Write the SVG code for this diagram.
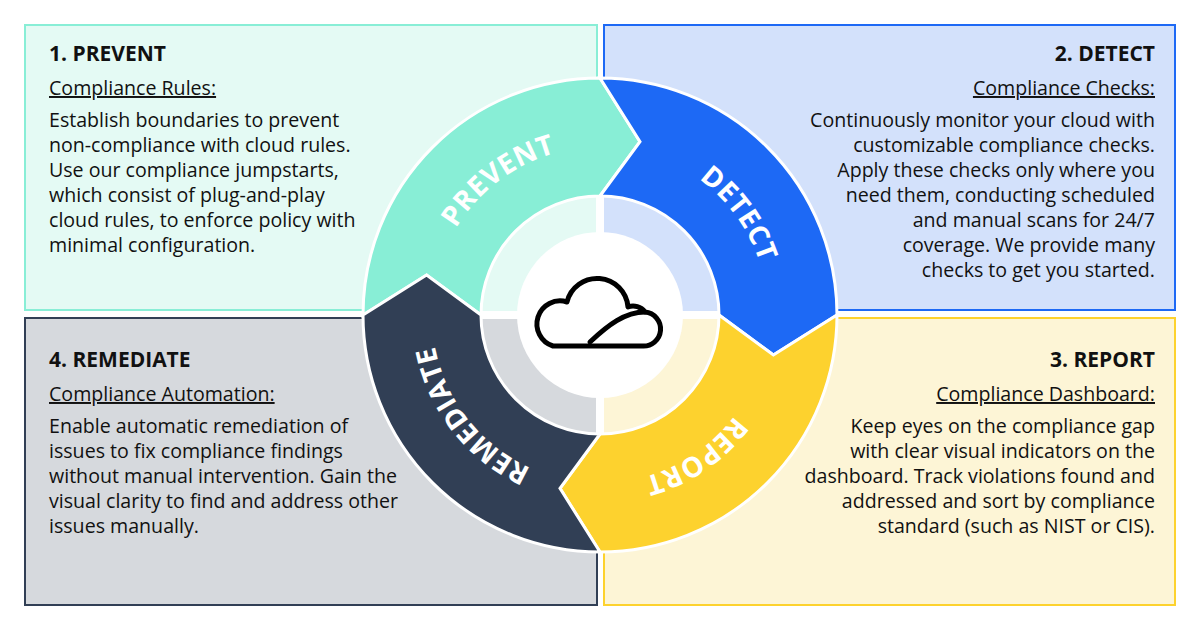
<svg xmlns="http://www.w3.org/2000/svg" width="1200" height="627" viewBox="0 0 1200 627">
<style>
text{font-family:"Open Sans","Liberation Sans",sans-serif;fill:#111}
.t{font-size:21px;font-weight:700}
.s{font-size:19.6px;text-decoration:underline}
.b{font-size:19.6px}
.r{text-anchor:end}
.lbl{font-family:"Open Sans","Liberation Sans",sans-serif;font-size:28px;font-weight:700;fill:#fff;letter-spacing:0.5px}
.seg{stroke:#fff;stroke-width:3;stroke-linejoin:miter}
</style>
<defs>
<path id="arc" d="M600,147 A168,168 0 1 1 600,483 A168,168 0 1 1 600,147"/>
</defs>
<rect width="1200" height="627" fill="#fff"/>
<g id="panel-prevent">
<rect x="25" y="25" width="572" height="285" fill="#e4faf4" stroke="#88eed6" stroke-width="2"/>
<text class="t" x="49" y="61">1. PREVENT</text>
<text class="s" x="49" y="95">Compliance Rules:</text>
<text class="b" x="49" y="127">Establish boundaries to prevent</text>
<text class="b" x="49" y="152">non-compliance with cloud rules.</text>
<text class="b" x="49" y="177">Use our compliance jumpstarts,</text>
<text class="b" x="49" y="202">which consist of plug-and-play</text>
<text class="b" x="49" y="227">cloud rules, to enforce policy with</text>
<text class="b" x="49" y="252">minimal configuration.</text>
</g>
<g id="panel-detect">
<rect x="604" y="25" width="571" height="285" fill="#d3e1fb" stroke="#1d69f5" stroke-width="2"/>
<text class="t r" x="1155" y="61">2. DETECT</text>
<text class="s r" x="1155" y="95">Compliance Checks:</text>
<text class="b r" x="1155" y="127">Continuously monitor your cloud with</text>
<text class="b r" x="1155" y="152">customizable compliance checks.</text>
<text class="b r" x="1155" y="177">Apply these checks only where you</text>
<text class="b r" x="1155" y="202">need them, conducting scheduled</text>
<text class="b r" x="1155" y="227">and manual scans for 24/7</text>
<text class="b r" x="1155" y="252">coverage. We provide many</text>
<text class="b r" x="1155" y="277">checks to get you started.</text>
</g>
<g id="panel-remediate">
<rect x="25" y="318" width="572" height="287" fill="#d6d9dd" stroke="#313f55" stroke-width="2"/>
<text class="t" x="49" y="367">4. REMEDIATE</text>
<text class="s" x="49" y="401">Compliance Automation:</text>
<text class="b" x="49" y="433">Enable automatic remediation of</text>
<text class="b" x="49" y="458">issues to fix compliance findings</text>
<text class="b" x="49" y="483">without manual intervention. Gain the</text>
<text class="b" x="49" y="508">visual clarity to find and address other</text>
<text class="b" x="49" y="533">issues manually.</text>
</g>
<g id="panel-report">
<rect x="604" y="318" width="571" height="287" fill="#fdf5d6" stroke="#fdd22e" stroke-width="2"/>
<text class="t r" x="1155" y="367">3. REPORT</text>
<text class="s r" x="1155" y="401">Compliance Dashboard:</text>
<text class="b r" x="1155" y="433">Keep eyes on the compliance gap</text>
<text class="b r" x="1155" y="458">with clear visual indicators on the</text>
<text class="b r" x="1155" y="483">dashboard. Track violations found and</text>
<text class="b r" x="1155" y="508">addressed and sort by compliance</text>
<text class="b r" x="1155" y="533">standard (such as NIST or CIS).</text>
</g>
<g id="inner-ring">
<path d="M600,315 L481,315 A119,119 0 0 1 600,196 Z" fill="#e4faf4"/>
<path d="M600,315 L600,196 A119,119 0 0 1 719,315 Z" fill="#d3e1fb"/>
<path d="M600,315 L719,315 A119,119 0 0 1 600,434 Z" fill="#fdf5d6"/>
<path d="M600,315 L600,434 A119,119 0 0 1 481,315 Z" fill="#d6d9dd"/>
<path d="M600,190 V440 M475,315 H725" stroke="#fff" stroke-width="8"/>
<circle cx="600" cy="315" r="83" fill="#fff"/>
</g>
<g id="connectors">
<path id="seg-prevent" class="seg" fill="#88eed6" d="M363,315 A237,237 0 0 1 600,78 L640,141.6 L600,196 A119,119 0 0 0 481,315 L426.6,275 Z"/>
<path id="seg-detect" class="seg" fill="#1d69f5" d="M600,78 A237,237 0 0 1 837,315 L773.4,355 L719,315 A119,119 0 0 0 600,196 L640,141.6 Z"/>
<path id="seg-report" class="seg" fill="#fdd22e" d="M837,315 A237,237 0 0 1 600,552 L560,488.4 L600,434 A119,119 0 0 0 719,315 L773.4,355 Z"/>
<path id="seg-remediate" class="seg" fill="#313f55" d="M600,552 A237,237 0 0 1 363,315 L426.6,275 L481,315 A119,119 0 0 0 600,434 L560,488.4 Z"/>
</g>
<g id="ring-labels">
<text class="lbl" text-anchor="middle"><textPath href="#arc" startOffset="89.7%">PREVENT</textPath></text>
<text class="lbl" text-anchor="middle"><textPath href="#arc" startOffset="15%">DETECT</textPath></text>
<text class="lbl" text-anchor="middle"><textPath href="#arc" startOffset="40.5%">REPORT</textPath></text>
<text class="lbl" text-anchor="middle"><textPath href="#arc" startOffset="64.4%">REMEDIATE</textPath></text>
</g>
<g id="cloud" fill="none" stroke="#000" stroke-width="5" stroke-linejoin="round" stroke-linecap="round">
<path d="M553,346 H642 A17,17 0 0 0 645,312 A15,15 0 0 0 628,307 A31,31 0 0 0 567,302 A20,20 0 0 0 553,346 Z"/>
<path d="M590,342 C608,325 625,312 645,312"/>
</g>
</svg>
